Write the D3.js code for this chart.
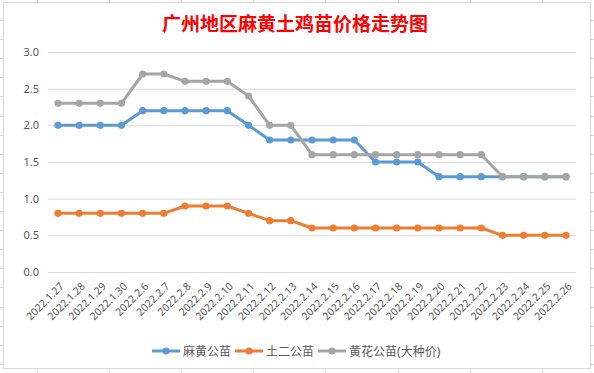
<!DOCTYPE html>
<html>
<head>
<meta charset="utf-8">
<script src="https://cdn.jsdelivr.net/npm/d3@7"></script>
<style>
  body { margin: 0; background: #fff; }
  svg text { font-family: "Noto Sans", "Noto Sans CJK SC", sans-serif; }
  .tick-label { font-size: 11px; fill: #595959; }
  .x-label { font-size: 10.5px; fill: #595959; }
  .legend-label { font-size: 12px; fill: #595959; }
</style>
</head>
<body>
<div class="chart"></div>
<script>
const dates = ["2022.1.27", "2022.1.28", "2022.1.29", "2022.1.30", "2022.2.6", "2022.2.7",
    "2022.2.8", "2022.2.9", "2022.2.10", "2022.2.11", "2022.2.12", "2022.2.13", "2022.2.14",
    "2022.2.15", "2022.2.16", "2022.2.17", "2022.2.18", "2022.2.19", "2022.2.20", "2022.2.21",
    "2022.2.22", "2022.2.23", "2022.2.24", "2022.2.25", "2022.2.26"]

const mahuang = [2.0, 2.0, 2.0, 2.0, 2.2, 2.2, 2.2, 2.2, 2.2, 2.0, 1.8, 1.8, 1.8,
    1.8, 1.8, 1.5, 1.5, 1.5, 1.3, 1.3, 1.3, 1.3, 1.3, 1.3, 1.3]
const tuer = [0.8, 0.8, 0.8, 0.8, 0.8, 0.8, 0.9, 0.9, 0.9, 0.8, 0.7, 0.7, 0.6,
    0.6, 0.6, 0.6, 0.6, 0.6, 0.6, 0.6, 0.6, 0.5, 0.5, 0.5, 0.5]
const huanghua = [2.3, 2.3, 2.3, 2.3, 2.7, 2.7, 2.6, 2.6, 2.6, 2.4, 2.0, 2.0, 1.6,
    1.6, 1.6, 1.6, 1.6, 1.6, 1.6, 1.6, 1.6, 1.3, 1.3, 1.3, 1.3]

const seriesNames = ["麻黄公苗", "土二公苗", "黄花公苗(大种价)"]
const seriesColors = ["#5B9BD5", "#ED7D31", "#A5A5A5"]
const yTicks = [0, 0.5, 1.0, 1.5, 2.0, 2.5, 3.0]
const title = "广州地区麻黄土鸡苗价格走势图"

const width = 594
const height = 373

const svg = d3.select(".chart").append("svg")
    .attr("width", width)
    .attr("height", height)

// spreadsheet cells peeking around the chart
const edge = svg.append("g").attr("stroke", "#d6d6d6").attr("stroke-width", 1)
edge.append("rect")
    .attr("x", 3.5).attr("y", 2.5)
    .attr("width", 587).attr("height", 366)
    .attr("fill", "#fff")
d3.range(20, 370, 19.1).forEach(function(y){
    edge.append("line").attr("x1", 0).attr("x2", 3).attr("y1", Math.round(y) + 0.5).attr("y2", Math.round(y) + 0.5)
    edge.append("line").attr("x1", 591).attr("x2", 594).attr("y1", Math.round(y) + 0.5).attr("y2", Math.round(y) + 0.5)
})
d3.range(37, 594, 72.1).forEach(function(x){
    edge.append("line").attr("y1", 0).attr("y2", 2).attr("x1", Math.round(x) + 0.5).attr("x2", Math.round(x) + 0.5)
    edge.append("line").attr("y1", 369).attr("y2", 373).attr("x1", Math.round(x) + 0.5).attr("x2", Math.round(x) + 0.5)
})

svg.append("text")
    .attr("x", 295)
    .attr("y", 31)
    .attr("text-anchor", "middle")
    .style("font-family", "'Noto Sans CJK SC', sans-serif")
    .style("font-size", "19px")
    .style("font-weight", "bold")
    .style("fill", "#FF0000")
    .text(title)

const xScale = d3.scalePoint()
    .domain(dates)
    .range([58, 566])

const yScale = d3.scaleLinear()
    .domain([0, 3])
    .range([272, 52])

// gridlines + y labels
const yAxis = d3.axisLeft(yScale)
    .tickValues(yTicks)
    .tickFormat(d3.format(".1f"))
    .tickSize(-528)
    .tickPadding(9)

const yG = svg.append("g")
    .attr("transform", "translate(48,0)")
    .call(yAxis)
yG.select(".domain").remove()
yG.selectAll(".tick line").attr("stroke", "#d9d9d9").attr("stroke-width", 1)
yG.selectAll(".tick text").attr("class", "tick-label").attr("font-family", null).attr("font-size", null)

// x labels
const xAxis = d3.axisBottom(xScale).tickSize(0).tickPadding(0)
const xG = svg.append("g")
    .attr("transform", "translate(0,272)")
    .call(xAxis)
xG.select(".domain").remove()
xG.selectAll(".tick text")
    .attr("class", "x-label")
    .attr("font-family", null)
    .attr("font-size", null)
    .attr("text-anchor", "end")
    .attr("dy", null)
    .attr("y", 0)
    .attr("transform", "translate(6,15) rotate(-45)")

const allSeries = [mahuang, tuer, huanghua]

const line = d3.line()
    .x((d, i) => xScale(dates[i]))
    .y(d => yScale(d))

allSeries.forEach(function(values, k){
    const g = svg.append("g")
    g.append("path")
        .datum(values)
        .attr("d", line)
        .attr("fill", "none")
        .attr("stroke", seriesColors[k])
        .attr("stroke-width", 3)
        .attr("stroke-linejoin", "round")
        .attr("stroke-linecap", "round")
    g.selectAll("circle")
        .data(values)
        .join("circle")
        .attr("cx", (d, i) => xScale(dates[i]))
        .attr("cy", d => yScale(d))
        .attr("r", 3.6)
        .attr("fill", seriesColors[k])
})

// legend
const legend = svg.append("g").attr("transform", "translate(152,351)")
let lx = 0
seriesNames.forEach(function(name, k){
    const item = legend.append("g").attr("transform", "translate(" + lx + ",0)")
    item.append("line")
        .attr("x1", 0).attr("x2", 28)
        .attr("y1", 0).attr("y2", 0)
        .attr("stroke", seriesColors[k])
        .attr("stroke-width", 3)
    item.append("circle")
        .attr("cx", 14).attr("cy", 0).attr("r", 3.6)
        .attr("fill", seriesColors[k])
    const t = item.append("text")
        .attr("class", "legend-label")
        .attr("x", 31)
        .attr("y", 4.5)
        .text(name)
    lx += 31 + t.node().getComputedTextLength() + 4
})
</script>
</body>
</html>
